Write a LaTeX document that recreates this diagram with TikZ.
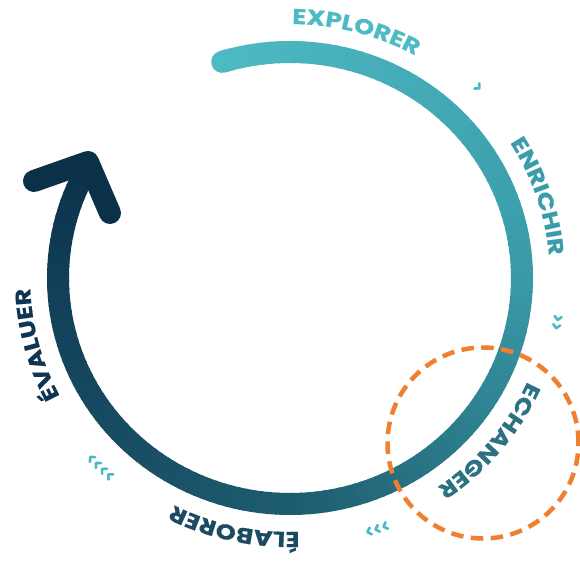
\documentclass[tikz,border=0pt]{standalone}
\usepackage{fontspec}
\newfontfamily\labfont{Poppins}[FakeStretch=1.2, FakeBold=0.6]
\usetikzlibrary{decorations.text}
\definecolor{cExp}{HTML}{4DBAC4}
\definecolor{cEnr}{HTML}{3D9CAB}
\definecolor{cEch}{HTML}{2C7282}
\definecolor{cEla}{HTML}{1A4B61}
\definecolor{cEva}{HTML}{0F3550}
\definecolor{cArrow}{HTML}{0B3149}
\definecolor{chevc}{HTML}{4BB9C3}
\definecolor{orangec}{HTML}{EE8030}
\tikzset{
  arcline/.style={line width=22pt},
  chevline/.style={line width=2.6pt, line cap=round, line join=round, draw=chevc},
  chev/.pic={\draw[chevline] (-2,3.5) -- (1.5,0) -- (-2,-3.5);},
  lab/.style={decorate, decoration={text along path, text align=center, text={#1}}},
}
\newcommand\labfmt{\labfont\bfseries\fontsize{21.5}{21.5}\selectfont}
\begin{document}
\begin{tikzpicture}[x=1pt,y=1pt]
\useasboundingbox (0,0) rectangle (580,562);
\coordinate (C) at (290,284);
% gradient arc
\draw[arcline, line cap=round, color=cExp] (C) ++(107:232 and 226) arc[start angle=107, end angle=105, x radius=232, y radius=226];
\foreach \a in {107,105,...,-209}{
  \pgfmathsetmacro\ma{\a-1.25}
  \pgfmathsetmacro\mb{\a-2.5}
  \pgfmathtruncatemacro\cR{(\ma>0) ? (58+19*(\ma)/107) : ((\ma>-90) ? (58+28*(\ma)/90) : ((\ma>-180) ? (30+12*(\ma+90)/90) : (18+7*(\ma+180)/31)))}
  \pgfmathtruncatemacro\cG{(\ma>0) ? (155+31*(\ma)/107) : ((\ma>-90) ? (155+62*(\ma)/90) : ((\ma>-180) ? (93+31*(\ma+90)/90) : (62+13*(\ma+180)/31)))}
  \pgfmathtruncatemacro\cB{(\ma>0) ? (168+28*(\ma)/107) : ((\ma>-90) ? (168+56*(\ma)/90) : ((\ma>-180) ? (112+24*(\ma+90)/90) : (88+15*(\ma+180)/31)))}
  \definecolor{segc}{RGB}{\cR,\cG,\cB}
  \draw[arcline, color=segc] (C) ++(\a:232 and 226) arc[start angle=\a, end angle=\mb, x radius=232, y radius=226];
}
% arrow head
\coordinate (hl) at (34,381);
\coordinate (ht) at (88,400);
\coordinate (hr) at (110,349);
\draw[arcline, cArrow, line cap=round, line join=round] (hl) -- (ht) -- (hr);
% labels
\path[lab={|\labfmt\color{cExp}|EXPLORER}] (C) ++(95.3:260 and 254) arc[start angle=95.3, end angle=55.3, x radius=260, y radius=254];
\path[lab={|\labfmt\color{cEnr}|ENRICHIR}] (C) ++(38.6:260 and 254) arc[start angle=38.6, end angle=-1.4, x radius=260, y radius=254];
\path[lab={|\labfmt\color{cEch}|ECHANGER}] (C) ++(-19.8:260 and 254) arc[start angle=-19.8, end angle=-59.8, x radius=260, y radius=254];
\path[lab={|\labfmt\color{cEla}|ÉLABORER}] (C) ++(-82.3:260 and 254) arc[start angle=-82.3, end angle=-122.3, x radius=260, y radius=254];
\path[lab={|\labfmt\color{cEva}|ÉVALUER}] (C) ++(-145:260 and 254) arc[start angle=-145, end angle=-185, x radius=260, y radius=254];
% chevrons
\foreach \g in {46,-8.8,-10.6,-73.1,-71.3,-69.5,-137.2,-135.4,-133.6,-131.8}{
  \path (C) ++(\g:271 and 265) pic[rotate=\g-90] {chev};
}
% orange dashed circle
\node[draw=orangec, line width=4.5pt, dash pattern=on 12.5pt off 7.4pt, circle, minimum size=191pt, inner sep=0pt] (focus) at (483,119) {};
\end{tikzpicture}
\end{document}
